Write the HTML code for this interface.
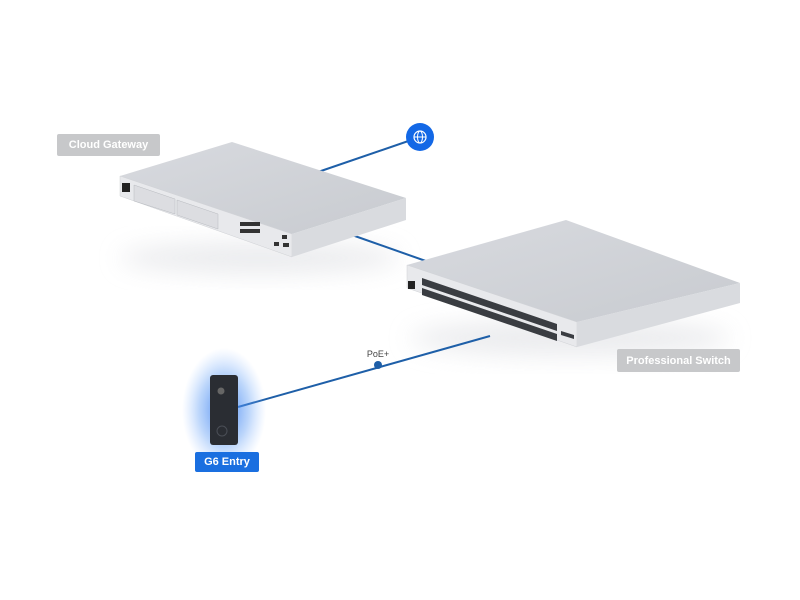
<!DOCTYPE html>
<html><head><style>
body{margin:0;width:800px;height:600px;background:#fff;overflow:hidden;font-family:"Liberation Sans",sans-serif}
.lbl{position:absolute;color:#fff;font-size:11px;font-weight:bold;display:flex;align-items:center;justify-content:center;border-radius:2px}
</style></head><body>
<svg width="800" height="600" style="position:absolute;left:0;top:0">
<defs>
<radialGradient id="glow"><stop offset="0" stop-color="#3a7cf0" stop-opacity="0.9"/><stop offset="0.6" stop-color="#5a9af5" stop-opacity="0.4"/><stop offset="1" stop-color="#8ab8ff" stop-opacity="0"/></radialGradient>
<filter id="sh" x="-20%" y="-50%" width="140%" height="200%"><feGaussianBlur stdDeviation="12"/></filter>
<linearGradient id="top1" x1="0" y1="0" x2="1" y2="1"><stop offset="0" stop-color="#d8dadf"/><stop offset="1" stop-color="#c8cbd0"/></linearGradient>
</defs>
<!-- shadows -->
<ellipse cx="260" cy="258" rx="140" ry="16" fill="#e6e7ea" filter="url(#sh)" opacity="0.8"/>
<ellipse cx="570" cy="338" rx="160" ry="18" fill="#e6e7ea" filter="url(#sh)" opacity="0.8"/>
<!-- lines -->
<line x1="420" y1="137" x2="318" y2="172" stroke="#1e5fa8" stroke-width="2"/>
<line x1="352" y1="235" x2="440" y2="266" stroke="#1e5fa8" stroke-width="2"/>
<line x1="490" y1="336" x2="238" y2="407" stroke="#1e5fa8" stroke-width="2"/>
<!-- gateway -->
<polygon points="120,176 232,142 406,198 292,234" fill="url(#top1)"/>
<polygon points="120,176 292,234 292,257 120,196" fill="#e8e9ec" stroke="#cfd1d5" stroke-width="0.5"/>
<polygon points="292,234 406,198 406,220 292,257" fill="#d9dbdf"/>
<rect x="122" y="183" width="8" height="9" fill="#222"/>
<polygon points="134,185 175,199 175,214 134,201" fill="#dcdde1" stroke="#b8bbc0" stroke-width="0.5"/>
<polygon points="177,200 218,214 218,229 177,215" fill="#dcdde1" stroke="#b8bbc0" stroke-width="0.5"/>
<g fill="#333"><rect x="240" y="222" width="20" height="4"/><rect x="240" y="229" width="20" height="4"/><rect x="282" y="235" width="5" height="4"/><rect x="283" y="243" width="6" height="4"/><rect x="274" y="242" width="5" height="4"/></g>
<!-- switch -->
<polygon points="407,265 566,220 740,283 577,322" fill="url(#top1)"/>
<polygon points="407,265 577,322 577,347 407,288" fill="#e8e9ec" stroke="#cfd1d5" stroke-width="0.5"/>
<polygon points="577,322 740,283 740,303 577,347" fill="#d9dbdf"/>
<rect x="408" y="281" width="7" height="8" fill="#222"/>
<polygon points="422,278 557,324 557,331 422,285" fill="#3a3d42"/>
<polygon points="422,288 557,334 557,341 422,295" fill="#3a3d42"/>
<polygon points="561,331 574,335 574,339 561,335" fill="#3a3d42"/>
<!-- globe -->
<circle cx="420" cy="137" r="14" fill="#1368e6"/>
<circle cx="420" cy="137" r="6" fill="none" stroke="#fff" stroke-width="1.2"/>
<ellipse cx="420" cy="137" rx="2.5" ry="6" fill="none" stroke="#fff" stroke-width="1"/>
<line x1="414" y1="137" x2="426" y2="137" stroke="#fff" stroke-width="1"/>
<!-- PoE -->
<text x="378" y="357" font-size="9" fill="#444" text-anchor="middle" font-family="Liberation Sans">PoE+</text>
<circle cx="378" cy="365" r="4" fill="#1e5fa8"/>
<!-- camera -->
<ellipse cx="224" cy="410" rx="42" ry="62" fill="url(#glow)"/>
<rect x="210" y="375" width="28" height="70" rx="3" fill="#2a2d33"/>
<circle cx="221" cy="391" r="3.5" fill="#666"/>
<circle cx="222" cy="431" r="5" fill="none" stroke="#4a4e56" stroke-width="1"/>
</svg>
<div class="lbl" style="left:57px;top:134px;width:103px;height:22px;background:#c7c8ca">Cloud Gateway</div>
<div class="lbl" style="left:617px;top:349px;width:123px;height:23px;background:#c7c8ca">Professional Switch</div>
<div class="lbl" style="left:195px;top:452px;width:64px;height:20px;background:#1a6fe0">G6 Entry</div>
</body></html>
